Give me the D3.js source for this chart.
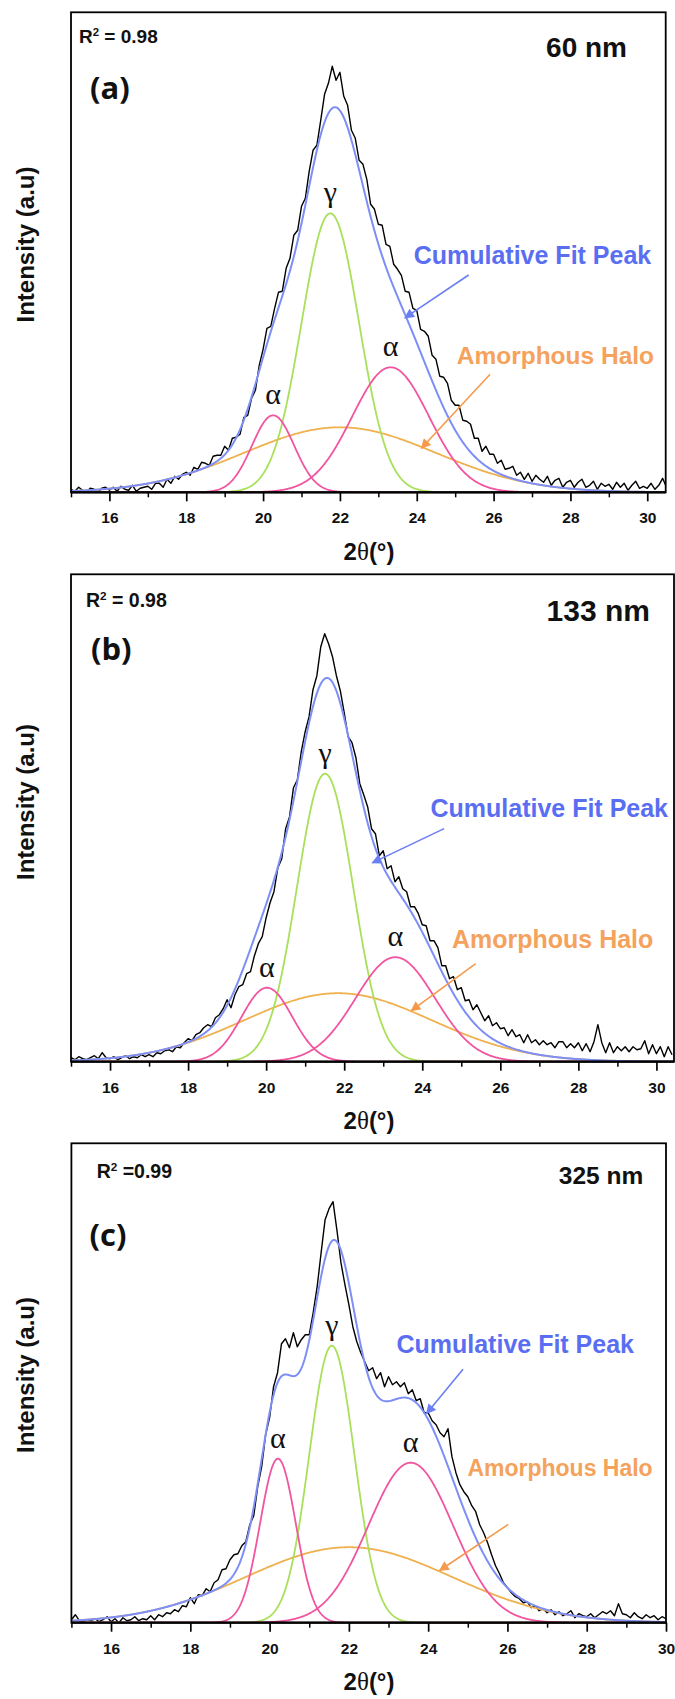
<!DOCTYPE html>
<html><head><meta charset="utf-8">
<script src="https://cdn.jsdelivr.net/npm/d3@7"></script>
<style>
html,body{margin:0;padding:0;background:#fff;}
svg{display:block;}
</style></head><body>
<svg id="chart" width="675" height="1699"></svg>
<script>
// ---------------- DATA ----------------
// measured XRD intensity (a.u.), sampled every 0.1° starting at 2θ = 15°
const twoThetaStart = 15.0;
const twoThetaStep = 0.1;

const intensityA = [
  3,1,5,2,0,4,3,0,4,5,
  2,5,1,6,3,2,7,1,4,5,
  6,3,9,9,5,13,9,16,13,18,
  20,17,25,23,30,29,27,36,37,37,
  46,42,54,55,58,75,77,94,102,127,
  143,164,166,184,200,201,224,234,257,262,
  286,294,321,342,347,372,398,409,426,412,
  420,396,387,362,354,332,328,313,288,283,
  268,267,248,246,228,223,217,201,200,184,
  182,163,161,156,137,133,116,115,109,92,
  87,87,72,71,68,54,54,41,46,38,
  38,29,32,23,24,26,17,20,13,19,
  11,17,13,10,16,7,12,14,5,10,
  12,5,10,13,5,7,11,3,9,6,
  8,3,10,5,9,2,7,11,4,6,
  4,9,3,7,14,5
];
const intensityB = [
  4,2,5,3,2,4,6,3,9,4,
  3,5,2,4,6,3,5,4,7,5,
  7,5,9,8,11,12,10,15,14,19,
  23,21,27,29,34,37,35,44,47,53,
  62,54,67,75,77,88,90,106,118,125,
  144,159,170,194,203,233,245,274,282,310,
  330,345,372,386,415,428,418,405,386,371,
  349,325,319,304,278,267,255,233,228,206,
  211,193,196,180,185,173,170,155,155,148,
  137,136,121,121,114,96,96,83,85,72,
  74,61,62,52,57,49,41,46,36,39,
  33,34,26,32,25,27,19,27,19,22,
  17,21,17,19,14,20,20,14,18,14,
  19,11,18,10,20,37,19,9,19,9,
  15,11,15,10,15,12,13,21,8,17,
  8,15,5,15,7
];
const intensityC = [
  3,8,2,1,3,2,4,1,3,6,
  1,4,0,5,2,3,6,2,4,3,
  7,3,8,6,10,9,13,11,17,16,
  25,19,28,27,34,31,40,43,53,54,
  63,68,69,77,81,98,107,136,156,188,
  205,236,250,279,284,275,290,276,283,288,
  288,310,336,370,403,414,421,392,360,338,
  318,296,281,270,261,252,255,244,250,236,
  246,238,241,236,240,229,233,222,224,210,
  210,202,198,190,186,194,166,150,138,131,
  126,117,111,98,90,80,68,57,49,40,
  35,30,26,24,20,21,15,17,12,14,
  10,13,8,11,7,9,12,5,9,7,
  6,9,5,8,11,9,12,7,19,9,
  8,5,10,6,4,8,5,7,3,6,4
];

// fitted Gaussian peaks: [α (low angle), γ, α (high angle), amorphous halo]
const peakLabels = ["α", "γ", "α", "halo"];
const peakCentersA = [20.26, 21.75, 23.32, 22.00];
const peakHeightsA = [77, 279, 125, 65];
const peakSigmasA  = [0.55, 0.75, 1.00, 2.50];
const peakCentersB = [20.02, 21.51, 23.31, 21.84];
const peakHeightsB = [74, 288, 104.5, 68.5];
const peakSigmasB  = [0.65, 0.72, 1.02, 2.40];
const peakCentersC = [20.21, 21.57, 23.56, 22.00];
const peakHeightsC = [164, 277, 160, 75.5];
const peakSigmasC  = [0.45, 0.57, 1.07, 2.60];

const panelTags = ["(a)", "(b)", "(c)"];
const thicknessLabels = ["60 nm", "133 nm", "325 nm"];
const r2Values = ["0.98", "0.98", "0.99"];
const r2Separators = [" = ", " = ", " ="];
const xDomainMax = [30.48, 30.45, 30.0];
const yDomainMax = [480, 487.4, 479.4];
const majorTicks = [16, 18, 20, 22, 24, 26, 28, 30];
const minorTicks = [15, 17, 19, 21, 23, 25, 27, 29];

// annotation anchors in data coordinates [2θ, intensity]
const cumTextAt  = [[23.92, 228], [24.21, 244.7], [23.20, 269.3]];
const cumArrowFrom = [[25.35, 217.3], [24.56, 233.1], [24.88, 253.4]];
const cumArrowTo   = [[23.69, 174.4], [22.72, 198.8], [23.96, 209.1]];
const haloTextAt = [[25.04, 128], [24.76, 114.2], [24.99, 146.3]];
const haloArrowFrom = [[25.91, 118], [25.37, 98.1], [26.02, 98.3]];
const haloArrowTo   = [[24.12, 44.1], [23.72, 51.0], [24.29, 52.2]];

// ---------------- LAYOUT ----------------
const layouts = [
  {left: 71, right: 665.7, top: 12.3, bottom: 492.3, r2: [79, 42.7], r2Size: 19, nm: [627, 57], nmSize: 28, tag: [90, 99], ylab: 244.5, amSize: 24.5},
  {left: 71, right: 674.0, top: 574.3, bottom: 1061.7, r2: [86, 606.7], r2Size: 19.5, nm: [650, 620.7], nmSize: 30, tag: [91, 660], ylab: 802, amSize: 25},
  {left: 71.4, right: 666.0, top: 1143.3, bottom: 1622.7, r2: [96.7, 1178.3], r2Size: 19.5, nm: [643.3, 1184], nmSize: 24.5, tag: [89.5, 1246], ylab: 1375, amSize: 23}
];

const SANS = "'Liberation Sans', Arial, Helvetica, sans-serif";
const SERIF = "'Liberation Serif', 'Times New Roman', serif";
const COL = {
  data: "#000000",
  fit: "#7d8ef6",
  gamma: "#a8e05a",
  alpha: "#f2559f",
  halo: "#efb04e",
  cumText: "#5a6ef2",
  haloText: "#f5a25c",
  cumArrow: "#6b7ef4",
  haloArrow: "#f59a4c"
};

const svg = d3.select("#chart");
const defs = svg.append("defs");
function marker(id, color) {
  defs.append("marker").attr("id", id)
    .attr("viewBox", "0 0 10 10").attr("refX", 9).attr("refY", 5)
    .attr("markerWidth", 11).attr("markerHeight", 10)
    .attr("markerUnits", "userSpaceOnUse").attr("orient", "auto")
    .append("path").attr("d", "M0,0 L10,5 L0,10 Z").attr("fill", color);
}
marker("arrBlue", COL.cumArrow);
marker("arrOrange", COL.haloArrow);

const datasets = [intensityA, intensityB, intensityC];
const centers = [peakCentersA, peakCentersB, peakCentersC];
const heights = [peakHeightsA, peakHeightsB, peakHeightsC];
const sigmas = [peakSigmasA, peakSigmasB, peakSigmasC];

function gauss(t, c, h, s) { return h * Math.exp(-((t - c) * (t - c)) / (2 * s * s)); }

layouts.forEach((L, i) => {
  const x = d3.scaleLinear().domain([15, xDomainMax[i]]).range([L.left, L.right]);
  const y = d3.scaleLinear().domain([0, yDomainMax[i]]).range([L.bottom, L.top]);
  const g = svg.append("g");

  const clipId = "clip" + i;
  defs.append("clipPath").attr("id", clipId).append("rect")
    .attr("x", L.left).attr("y", L.top).attr("width", L.right - L.left).attr("height", L.bottom - L.top);
  const plot = g.append("g").attr("clip-path", `url(#${clipId})`);

  const line = d3.line().x(d => x(d[0])).y(d => y(d[1]));

  // measured pattern
  const pts = datasets[i].map((v, k) => [twoThetaStart + k * twoThetaStep, v]);
  plot.append("path").attr("d", line(pts)).attr("fill", "none")
    .attr("stroke", COL.data).attr("stroke-width", 1.4).attr("stroke-linejoin", "round");

  // fitted components
  const grid = d3.range(15, xDomainMax[i] + 0.0001, 0.02);
  const comps = centers[i].map((c, k) => grid.map(t => [t, gauss(t, c, heights[i][k], sigmas[i][k])]));
  const compColor = [COL.alpha, COL.gamma, COL.alpha, COL.halo];
  const order = [3, 1, 0, 2];
  order.forEach(k => {
    plot.append("path").attr("d", line(comps[k])).attr("fill", "none")
      .attr("stroke", compColor[k]).attr("stroke-width", 1.8);
  });
  // cumulative fit
  const cum = grid.map((t, j) => [t, comps.reduce((s, cp) => s + cp[j][1], 0)]);
  plot.append("path").attr("d", line(cum)).attr("fill", "none")
    .attr("stroke", COL.fit).attr("stroke-width", 2);

  // frame
  g.append("rect").attr("x", L.left).attr("y", L.top)
    .attr("width", L.right - L.left).attr("height", L.bottom - L.top)
    .attr("fill", "none").attr("stroke", "#000").attr("stroke-width", 1.8);
  g.append("line").attr("x1", L.left).attr("x2", L.right).attr("y1", L.bottom).attr("y2", L.bottom)
    .attr("stroke", "#000").attr("stroke-width", 2.2);

  // x axis
  const ax = g.append("g").attr("transform", `translate(0,${L.bottom})`)
    .call(d3.axisBottom(x).tickValues(majorTicks.filter(t => t <= xDomainMax[i] + 1e-6))
      .tickSize(9).tickSizeOuter(0).tickFormat(d3.format("d")));
  ax.select(".domain").remove();
  ax.attr("font-family", SANS).attr("font-size", 15.5);
  ax.selectAll("line").attr("stroke", "#000").attr("stroke-width", 1.7);
  ax.selectAll("text").attr("y", 20).attr("dy", "0.71em").attr("font-weight", "bold").attr("fill", "#111");
  const axm = g.append("g").attr("transform", `translate(0,${L.bottom})`)
    .call(d3.axisBottom(x).tickValues(minorTicks).tickSize(5).tickSizeOuter(0).tickFormat(""));
  axm.select(".domain").remove();
  axm.selectAll("line").attr("stroke", "#000").attr("stroke-width", 1.5);

  // axis titles
  const xt = g.append("text").attr("x", 369).attr("y", L.bottom + 67.5)
    .attr("text-anchor", "middle").attr("font-family", SANS).attr("font-weight", "bold")
    .attr("font-size", 24).attr("fill", "#111");
  xt.append("tspan").text("2");
  xt.append("tspan").attr("font-family", SERIF).attr("font-weight", "normal").attr("font-size", 25).text("θ");
  xt.append("tspan").text("(°)");

  g.append("text").attr("transform", `translate(33.5,${L.ylab}) rotate(-90)`)
    .attr("text-anchor", "middle").attr("font-family", SANS).attr("font-weight", "bold")
    .attr("font-size", 24).attr("fill", "#111").text("Intensity (a.u)");

  // R² text
  const r2 = g.append("text").attr("x", L.r2[0]).attr("y", L.r2[1])
    .attr("font-family", SANS).attr("font-weight", "bold").attr("font-size", L.r2Size).attr("fill", "#111");
  r2.append("tspan").text("R");
  r2.append("tspan").attr("dy", -7).attr("font-size", L.r2Size * 0.6).text("2");
  r2.append("tspan").attr("dy", 7).text(r2Separators[i] + r2Values[i]);

  // thickness label
  g.append("text").attr("x", L.nm[0]).attr("y", L.nm[1]).attr("text-anchor", "end")
    .attr("font-family", SANS).attr("font-weight", "bold").attr("font-size", L.nmSize)
    .attr("fill", "#111").text(thicknessLabels[i]);

  // panel tag
  g.append("text").attr("x", L.tag[0]).attr("y", L.tag[1])
    .attr("font-family", "'Open Sans', 'Noto Sans', sans-serif").attr("font-weight", 700)
    .attr("font-size", 31).attr("fill", "#111").text(panelTags[i]);

  // peak labels (α, γ, α)
  [0, 1, 2].forEach(k => {
    g.append("text").attr("x", x(centers[i][k])).attr("y", y(heights[i][k]) - 11)
      .attr("text-anchor", "middle").attr("font-family", SERIF).attr("font-size", 30)
      .attr("fill", "#111").text(peakLabels[k]);
  });

  // annotations
  g.append("text").attr("x", x(cumTextAt[i][0])).attr("y", y(cumTextAt[i][1]))
    .attr("font-family", SANS).attr("font-weight", "bold").attr("font-size", 25)
    .attr("fill", COL.cumText).text("Cumulative Fit Peak");
  g.append("line").attr("x1", x(cumArrowFrom[i][0])).attr("y1", y(cumArrowFrom[i][1]))
    .attr("x2", x(cumArrowTo[i][0])).attr("y2", y(cumArrowTo[i][1]))
    .attr("stroke", COL.cumArrow).attr("stroke-width", 1.6).attr("marker-end", "url(#arrBlue)");
  g.append("text").attr("x", x(haloTextAt[i][0])).attr("y", y(haloTextAt[i][1]))
    .attr("font-family", SANS).attr("font-weight", "bold").attr("font-size", L.amSize)
    .attr("fill", COL.haloText).text("Amorphous Halo");
  g.append("line").attr("x1", x(haloArrowFrom[i][0])).attr("y1", y(haloArrowFrom[i][1]))
    .attr("x2", x(haloArrowTo[i][0])).attr("y2", y(haloArrowTo[i][1]))
    .attr("stroke", COL.haloArrow).attr("stroke-width", 1.6).attr("marker-end", "url(#arrOrange)");
});
</script>
</body></html>
